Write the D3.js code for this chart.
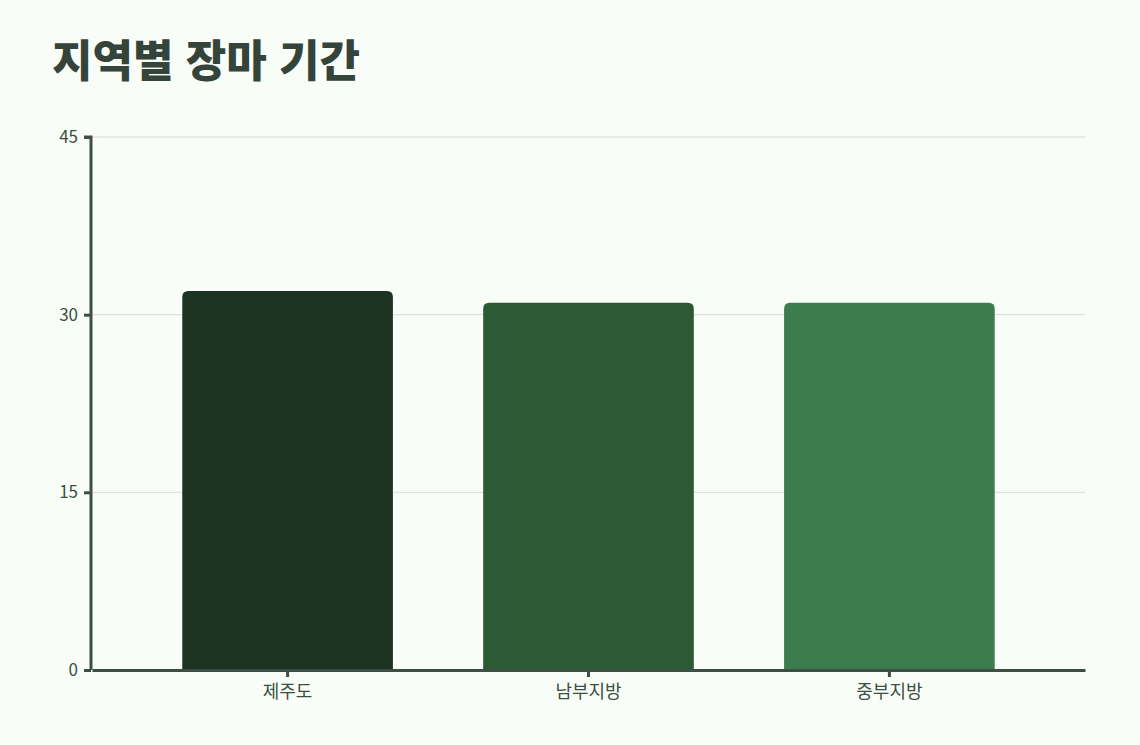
<!DOCTYPE html>
<html lang="ko">
<head>
  <meta charset="UTF-8">
  <title>지역별 장마 기간</title>
  <style>
    html, body {
      margin: 0;
      padding: 0;
      background: #f8fdf8;
      font-family: "Noto Sans CJK KR", "Noto Sans", sans-serif;
    }
    svg {
      display: block;
    }
    .tick text {
      fill: #3d4f44;
    }
  </style>
</head>
<body>
  <svg></svg>

  <script src="https://d3js.org/d3.v7.min.js"></script>
  <script>
    const regions = ["제주도", "남부지방", "중부지방"];
    const days = [32, 31, 31];
    const barColors = ["#1b3320", "#2b5a35", "#3d7c4d"];
    const yTicks = [0, 15, 30, 45];

    const width = 1140;
    const height = 745;
    const margin = { top: 137, right: 55, bottom: 75, left: 91 };

    const svg = d3.select("svg")
      .attr("width", width)
      .attr("height", height);

    svg.append("text")
      .attr("x", 52)
      .attr("y", 77)
      .attr("fill", "#35443a")
      .attr("font-size", 44)
      .attr("font-weight", 900)
      .text("지역별 장마 기간");

    const x = d3.scaleBand()
      .domain(regions)
      .range([margin.left + 1, width - margin.right])
      .paddingInner(0.3)
      .paddingOuter(0.3);

    const y = d3.scaleLinear()
      .domain([0, 45])
      .range([height - margin.bottom, margin.top]);

    // grid
    svg.append("g")
      .selectAll("line")
      .data(yTicks.filter(d => d > 0))
      .enter().append("line")
      .attr("x1", margin.left)
      .attr("x2", width - margin.right)
      .attr("y1", d => y(d))
      .attr("y2", d => y(d))
      .attr("stroke", "#d6dcd7")
      .attr("stroke-width", 1);

    const r = 6;
    svg.append("g")
      .selectAll("path")
      .data(regions)
      .enter().append("path")
      .attr("fill", (d, i) => barColors[i])
      .attr("d", (d, i) => {
        const x0 = x(d), w = x.bandwidth();
        const y0 = y(days[i]), y1 = y(0);
        return `M${x0},${y1}V${y0 + r}Q${x0},${y0} ${x0 + r},${y0}` +
          `H${x0 + w - r}Q${x0 + w},${y0} ${x0 + w},${y0 + r}V${y1}Z`;
      });

    const yAxis = svg.append("g")
      .attr("transform", `translate(${margin.left},0)`)
      .call(d3.axisLeft(y).tickValues(yTicks).tickSize(7).tickPadding(6));

    const xAxis = svg.append("g")
      .attr("transform", `translate(0,${height - margin.bottom})`)
      .call(d3.axisBottom(x).tickSize(7).tickPadding(8).tickSizeOuter(0));

    [yAxis, xAxis].forEach(g => {
      g.select(".domain").attr("stroke", "#3d4f44").attr("stroke-width", 3);
      g.selectAll(".tick line").attr("stroke", "#3d4f44").attr("stroke-width", 3);
      g.selectAll(".tick text").attr("font-size", 17)
        .attr("font-family", "'Noto Sans CJK KR', sans-serif");
    });
    xAxis.selectAll(".tick text").attr("font-size", 18);
    yAxis.select(".domain").attr("d", `M-7,${y(45)}H0V${y(0)}`);
  </script>
</body>
</html>
